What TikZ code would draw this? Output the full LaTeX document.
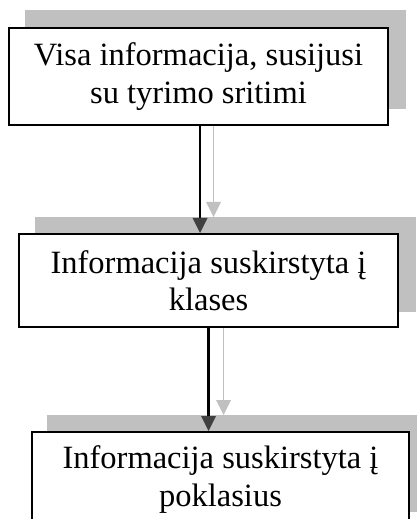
\documentclass[tikz,border=0pt]{standalone}
\usepackage{fontspec}
\setmainfont{Liberation Serif}
\usetikzlibrary{arrows.meta,backgrounds}
\definecolor{shade}{HTML}{C0C0C0}
\definecolor{headdark}{HTML}{404040}
\begin{document}
\begin{tikzpicture}[x=1bp,y=-1bp,
  box/.style={draw=black, line width=2bp, fill=white, minimum width=379bp, minimum height=95bp, inner sep=0pt, align=center, font=\fontsize{32.5bp}{37.5bp}\selectfont},
  mainarrow/.style={draw=black, line width=2.2bp, -{Triangle[width=15bp,length=15bp,line width=0pt,color=headdark]}},
  shadearrow/.style={draw=shade, line width=1.6bp, -{Triangle[width=15bp,length=15bp,line width=0pt,color=shade]}},
  shadowfill/.style={fill=shade, draw=none}
]
\useasboundingbox (0,0) rectangle (416,519);
\node[box, minimum height=97bp] (b1) at (198.5,76.5) {Visa informacija, susijusi\\su tyrimo sritimi};
\node[box, minimum height=93bp] (b2) at (208.5,280.5) {Informacija suskirstyta į\\klases};
\node[box, minimum width=377bp] (b3) at (220.5,479.5) {Informacija suskirstyta į\\poklasius};
\coordinate (g1s) at ([xshift=15bp]b1.south);
\coordinate (g1e) at ([shift={(15bp,16bp)}]b1.south |- b2.north);
\coordinate (g2s) at ([xshift=15bp]b2.south);
\coordinate (g2e) at ([shift={(15bp,16bp)}]b2.south |- b3.north);
\begin{scope}[on background layer]
  \fill[shadowfill] ([shift={(17bp,17bp)}]b1.south west) rectangle ([shift={(17bp,17bp)}]b1.north east);
  \fill[shadowfill] ([shift={(17bp,16bp)}]b2.south west) rectangle ([shift={(17bp,16bp)}]b2.north east);
  \fill[shadowfill] ([shift={(16bp,16bp)}]b3.south west) rectangle ([shift={(16bp,16bp)}]b3.north east);
  \draw[shadearrow] (g1s) -- (g1e);
  \draw[shadearrow] (g2s) -- (g2e);
\end{scope}
\draw[mainarrow] ([xshift=1.5bp]b1.south) -- ([xshift=1.5bp]b1.south |- b2.north);
\draw[mainarrow] (b2.south) -- (b2.south |- b3.north);
\end{tikzpicture}
\end{document}
